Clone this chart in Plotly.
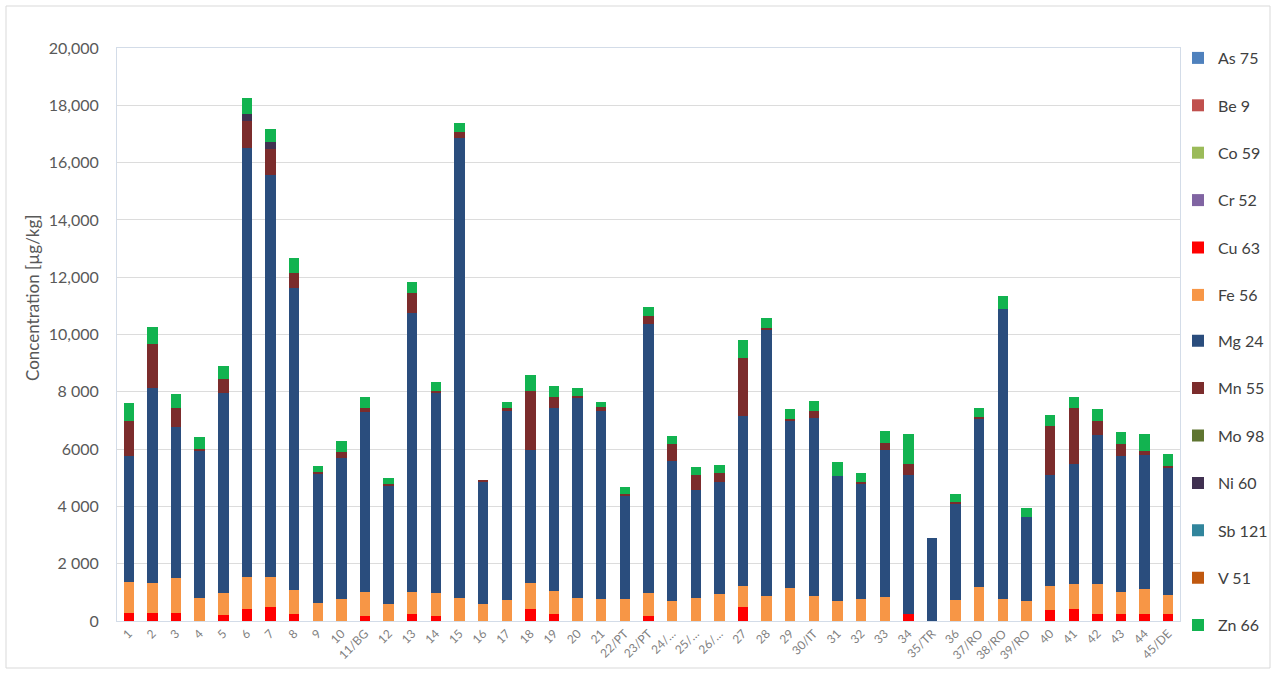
import plotly.graph_objects as go

categories = ["1", "2", "3", "4", "5", "6", "7", "8", "9", "10", "11/BG", "12", "13", "14", "15",
              "16", "17", "18", "19", "20", "21", "22/PT", "23/PT", "24/…", "25/…", "26/…", "27",
              "28", "29", "30/IT", "31", "32", "33", "34", "35/TR", "36", "37/RO", "38/RO", "39/RO",
              "40", "41", "42", "43", "44", "45/DE"]

absent = [0, 0, 0, 0, 0, 0, 0, 0, 0, 0, 0, 0, 0, 0, 0, 0, 0, 0, 0, 0, 0, 0, 0,
          0, 0, 0, 0, 0, 0, 0, 0, 0, 0, 0, 0, 0, 0, 0, 0, 0, 0, 0, 0, 0, 0]

as75 = absent
be9 = absent
co59 = absent
cr52 = absent
cu63 = [280, 290, 270, 0, 210, 420, 500, 240, 0, 0, 190, 0, 240, 190, 0, 0, 0, 420, 240, 0, 0, 0, 190,
        0, 0, 0, 480, 0, 0, 0, 0, 0, 0, 230, 0, 0, 0, 0, 0, 380, 410, 230, 230, 230, 230]
fe56 = [1070, 1030, 1240, 810, 760, 1130, 1020, 840, 620, 780, 810, 590, 760, 780, 790, 580, 730, 900,
        820, 810, 770, 760, 780, 700, 810, 930, 750, 870, 1140, 880, 710, 760, 830, 0, 0, 730, 1200,
        770, 700, 850, 880, 1050, 790, 880, 680]
mg24 = [4420, 6810, 5270, 5130, 7000, 14970, 14040, 10560, 4540, 4920, 6310, 4150, 9740, 6980, 16060,
        4280, 6610, 4650, 6360, 6980, 6560, 3620, 9390, 4890, 3760, 3930, 5930, 9280, 5840, 6210, 4350,
        4010, 5140, 4860, 2890, 3370, 5860, 10110, 2940, 3860, 4190, 5210, 4740, 4680, 4460]
mn55 = [1210, 1550, 660, 80, 460, 940, 900, 490, 40, 210, 120, 50, 700, 80, 230, 60, 80, 2060, 410, 60,
        130, 60, 270, 590, 520, 310, 2010, 90, 80, 250, 0, 70, 230, 380, 0, 60, 60, 0, 0, 1710, 1940,
        490, 410, 150, 50]
mo98 = absent
ni60 = [0, 0, 0, 0, 0, 230, 250, 0, 0, 0, 0, 0, 0, 0, 0, 0, 0, 0, 0, 0, 0, 0, 0,
        0, 0, 0, 0, 0, 0, 0, 0, 0, 0, 0, 0, 0, 0, 0, 0, 0, 0, 0, 0, 0, 0]
sb121 = absent
v51 = absent
zn66 = [620, 590, 500, 410, 470, 550, 450, 550, 220, 370, 380, 200, 390, 300, 290, 0, 230, 540, 380, 290,
        200, 220, 330, 280, 270, 290, 640, 350, 340, 340, 480, 340, 430, 1040, 0, 260, 310, 470, 290,
        380, 410, 420, 440, 600, 420]

series_names = ["As 75", "Be 9", "Co 59", "Cr 52", "Cu 63", "Fe 56", "Mg 24", "Mn 55", "Mo 98",
                "Ni 60", "Sb 121", "V 51", "Zn 66"]
series_values = [as75, be9, co59, cr52, cu63, fe56, mg24, mn55, mo98, ni60, sb121, v51, zn66]
series_colors = ["#4F81BD", "#C0504D", "#9BBB59", "#8064A2", "#FF0000", "#F79646", "#2A4D7D",
                 "#7B2C2C", "#5F7530", "#403151", "#31859C", "#C0580F", "#12B350"]

y_tick_vals = [0, 2000, 4000, 6000, 8000, 10000, 12000, 14000, 16000, 18000, 20000]
y_tick_text = ["0", "2 000", "4 000", "6000", "8 000", "10,000", "12,000", "14,000", "16,000",
               "18,000", "20,000"]

W, H = 1278, 676
L, R, T, B = 117, 98, 48, 55
pw, ph = W - L - R, H - T - B


def px_x(p):
    return (p - L) / pw


def px_y(p):
    return (H - B - p) / ph


fig = go.Figure()
for i, (name, vals, col) in enumerate(zip(series_names, series_values, series_colors)):
    fig.add_trace(go.Bar(x=categories, y=vals, name=name,
                         marker=dict(color=col, line=dict(width=0)),
                         legendgroup=name, legend="legend" if i < 6 else "legend2"))

legend_style = dict(xanchor="left", yanchor="top", traceorder="grouped", tracegroupgap=23.6,
                    font=dict(size=16, color="#404040"), bgcolor="rgba(0,0,0,0)", itemwidth=30)

fig.update_layout(
    width=W, height=H,
    barmode="stack", bargap=0.56,
    plot_bgcolor="white", paper_bgcolor="white",
    margin=dict(l=L, r=R, t=T, b=B, autoexpand=False),
    font=dict(family="Lato, Open Sans, sans-serif", color="#595959"),
    xaxis=dict(type="category", tickangle=-45, tickfont=dict(size=12, color="#7F7F7F"),
               showgrid=False, showline=True, linecolor="#D3DCE8", mirror=True, ticks="",
               zeroline=False, automargin=False),
    yaxis=dict(range=[0, 20000], tickvals=y_tick_vals, ticktext=y_tick_text,
               tickfont=dict(size=16, color="#595959"), showgrid=True, gridcolor="#DCDCDC",
               gridwidth=1, showline=True, linecolor="#D3DCE8", mirror=True, zeroline=False,
               ticklabelstandoff=14, automargin=False),
    legend=dict(x=px_x(1178), y=px_y(41), **legend_style),
    legend2=dict(x=px_x(1178), y=px_y(323.8), **legend_style),
    annotations=[dict(text="Concentration [µg/kg]", textangle=-90, xref="paper", yref="paper",
                      x=px_x(32), y=px_y(298), xanchor="center", yanchor="middle",
                      showarrow=False, font=dict(size=17, color="#595959"))],
    shapes=[dict(type="rect", xref="paper", yref="paper", x0=px_x(6), x1=px_x(1270),
                 y0=px_y(668), y1=px_y(6), line=dict(color="#D9D9D9", width=1), layer="below")],
)

fig.write_html("out.html", config={"displayModeBar": False},
               post_script="document.body.style.margin='0';")
